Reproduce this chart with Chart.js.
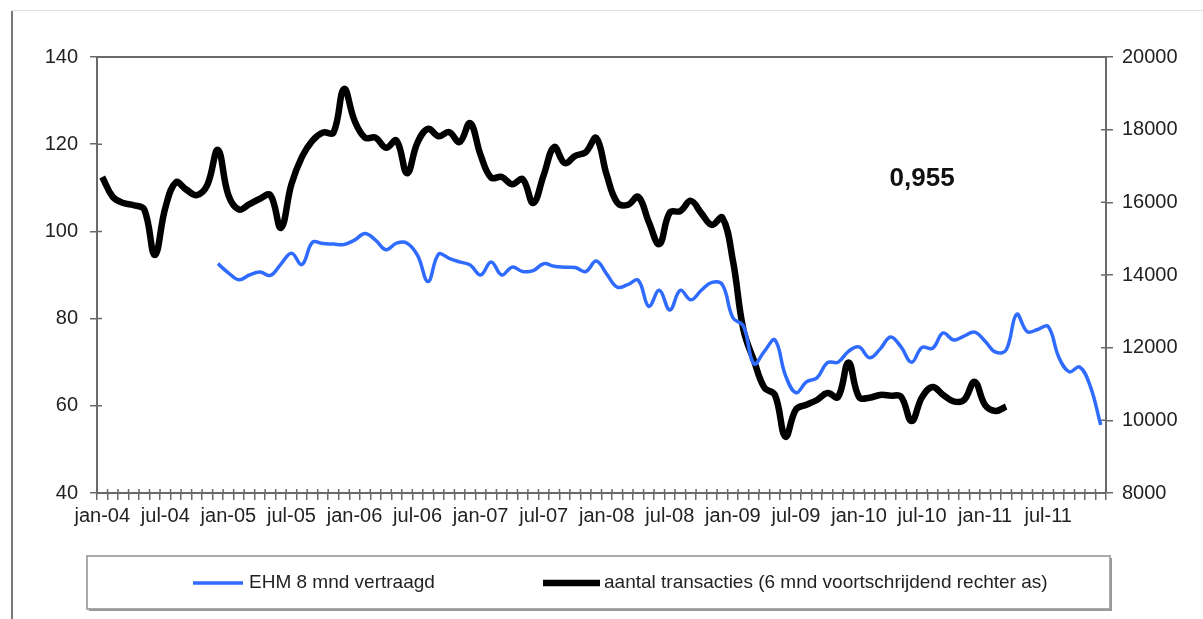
<!DOCTYPE html>
<html>
<head>
<meta charset="utf-8">
<script src="https://cdn.jsdelivr.net/npm/chart.js@4.4.1/dist/chart.umd.min.js"></script>
<style>
  html, body { margin: 0; padding: 0; background: #fff; }
  #wrap { width: 1203px; height: 619px; }
</style>
</head>
<body>
<div id="wrap"><canvas id="chart" width="1203" height="619"></canvas></div>
<script>
// DATA
const monthNames = ['jan', 'feb', 'mrt', 'apr', 'mei', 'jun', 'jul', 'aug', 'sep', 'okt', 'nov', 'dec'];
const years = ['04', '05', '06', '07', '08', '09', '10', '11'];
const labels = [];
years.forEach(y => monthNames.forEach(m => labels.push(m + '-' + y)));

const shownLabels = ['jan-04', 'jul-04', 'jan-05', 'jul-05', 'jan-06', 'jul-06', 'jan-07', 'jul-07',
    'jan-08', 'jul-08', 'jan-09', 'jul-09', 'jan-10', 'jul-10', 'jan-11', 'jul-11'];

// EHM 8 mnd vertraagd (left axis), starts dec-04
const ehm = [
    null, null, null, null, null, null, null, null, null, null, null, 92.6,
    90.5, 88.9, 90.0, 90.7, 89.9, 92.5, 95.0, 92.4, 97.5, 97.2, 97.1, 97.0,
    98.0, 99.5, 98.0, 95.8, 97.3, 97.3, 94.5, 88.5, 94.8, 93.8, 93.0, 92.3,
    90.0, 93.0, 90.0, 91.8, 90.8, 91.0, 92.6, 92.0, 91.8, 91.7, 90.8, 93.2,
    90.2, 87.2, 87.8, 88.8, 82.8, 86.5, 82.0, 86.5, 84.3, 86.5, 88.3, 87.8,
    80.2, 78.3, 69.6, 72.5, 75.1, 67.0, 63.0, 65.5, 66.4, 69.9, 70.0, 72.5,
    73.5, 71.0, 73.0, 75.8, 73.5, 70.0, 73.4, 73.2, 76.7, 75.1, 76.0, 76.9,
    74.8, 72.3, 72.8, 81.0, 77.0, 77.5, 78.2, 71.2, 67.8, 68.9, 64.5, 55.6
];

// aantal transacties, 6 mnd voortschrijdend (right axis), ends mrt-11
const transacties = [
    16700, 16150, 15980, 15920, 15800, 14550, 15850, 16550, 16350, 16200, 16480, 17440,
    16200, 15800, 15950, 16100, 16200, 15300, 16500, 17250, 17700, 17920, 17920, 19120,
    18250, 17780, 17780, 17500, 17700, 16800, 17650, 18020, 17820, 17930, 17660, 18180,
    17300, 16680, 16700, 16500, 16640, 15980, 16750, 17520, 17080, 17280, 17380, 17770,
    16750, 15990, 15930, 16150, 15460, 14850, 15720, 15760, 16040, 15700, 15380, 15580,
    14400, 12500, 11650, 10900, 10700, 9550, 10300, 10430, 10560, 10750, 10640, 11590,
    10640, 10620, 10700, 10680, 10650, 9980, 10640, 10920, 10700, 10520, 10560, 11060,
    10420, 10260, 10380, null, null, null, null, null, null, null, null, null
];

const correlation = '0,955';
const seriesNames = ['EHM 8 mnd vertraagd', 'aantal transacties (6 mnd voortschrijdend rechter as)'];

const FONT = "'Liberation Sans', Arial, sans-serif";
const axisColor = '#6a6a6a';

// PLUGINS
const frame = {
    id: 'frame',
    afterDraw(chart) {
        const c = chart.ctx;
        const a = chart.chartArea;
        c.save();
        // outer frame
        c.strokeStyle = '#777';
        c.lineWidth = 2;
        c.beginPath();
        c.moveTo(12, 11);
        c.lineTo(12, 619);
        c.stroke();
        c.strokeStyle = '#ddd';
        c.lineWidth = 1;
        c.beginPath();
        c.moveTo(12, 10.5);
        c.lineTo(1203, 10.5);
        c.stroke();
        // plot top border
        c.strokeStyle = axisColor;
        c.lineWidth = 2;
        c.beginPath();
        c.moveTo(a.left, a.top);
        c.lineTo(a.right, a.top);
        c.stroke();
        // inner half of the crossing ticks
        c.lineWidth = 1.5;
        c.beginPath();
        const yl = chart.scales.y, yr = chart.scales.y1, x = chart.scales.x;
        yl.ticks.forEach((t, i) => {
            const p = yl.getPixelForTick(i);
            c.moveTo(a.left, p); c.lineTo(a.left + 5, p);
        });
        yr.ticks.forEach((t, i) => {
            const p = yr.getPixelForTick(i);
            c.moveTo(a.right, p); c.lineTo(a.right - 5, p);
        });
        const step = (a.right - a.left) / labels.length;
        for (let i = 0; i <= labels.length; i++) {
            const p = x.getPixelForValue(i) - step / 2;
            c.moveTo(p, a.bottom); c.lineTo(p, a.bottom - 4);
        }
        c.stroke();
        // correlation label
        c.fillStyle = '#111';
        c.font = 'bold 26px ' + FONT;
        c.textAlign = 'center';
        c.textBaseline = 'middle';
        c.fillText(correlation, x.getPixelForValue(78), yl.getPixelForValue(112));
        c.restore();
    }
};

const boxLegend = {
    id: 'boxLegend',
    afterDraw(chart) {
        const c = chart.ctx;
        c.save();
        c.strokeStyle = '#aaa';
        c.lineWidth = 2;
        c.strokeRect(87, 556, 1023, 53);
        c.strokeStyle = '#999';
        c.beginPath();
        c.moveTo(89, 610); c.lineTo(1111, 610); c.lineTo(1111, 558);
        c.stroke();
        const items = [{ x0: 193, x1: 243, tx: 249 }, { x0: 543, x1: 600, tx: 604 }];
        const ly = 583;
        c.font = '19px ' + FONT;
        c.textBaseline = 'middle';
        c.textAlign = 'left';
        chart.data.datasets.forEach((ds, i) => {
            const it = items[i];
            c.strokeStyle = ds.borderColor;
            c.lineWidth = ds.borderWidth;
            c.beginPath();
            c.moveTo(it.x0, ly); c.lineTo(it.x1, ly);
            c.stroke();
            c.fillStyle = '#222';
            c.fillText(ds.label, it.tx, ly);
        });
        c.restore();
    }
};

// CHART
const ctx = document.getElementById('chart').getContext('2d');
const chart = new Chart(ctx, {
    type: 'line',
    data: {
        labels: labels,
        datasets: [{
            label: seriesNames[0],
            data: ehm,
            yAxisID: 'y',
            borderColor: '#2f6bff',
            borderWidth: 3.5,
            pointRadius: 0,
            tension: 0.4,
            fill: false
        }, {
            label: seriesNames[1],
            data: transacties,
            yAxisID: 'y1',
            borderColor: '#000000',
            borderWidth: 6.5,
            pointRadius: 0,
            tension: 0.4,
            fill: false
        }]
    },
    options: {
        responsive: false,
        animation: false,
        layout: { padding: { top: 57, bottom: 82, left: 0, right: 0 } },
        plugins: { legend: { display: false }, tooltip: { enabled: false } },
        scales: {
            x: {
                type: 'category',
                offset: true,
                grid: { offset: true, drawOnChartArea: false, drawTicks: true, tickLength: 7, color: axisColor, lineWidth: 1.5 },
                border: { display: true, color: axisColor, width: 2 },
                ticks: {
                    autoSkip: false, maxRotation: 0, minRotation: 0, padding: 4,
                    color: '#222', font: { family: FONT, size: 20 },
                    callback: function (v) {
                        const l = this.getLabelForValue(v);
                        return shownLabels.includes(l) ? l : '';
                    }
                },
                afterFit: s => { s.height = 44; }
            },
            y: {
                position: 'left',
                min: 40, max: 140,
                ticks: { stepSize: 20, padding: 12, color: '#222', font: { family: FONT, size: 20 } },
                grid: { drawOnChartArea: false, tickLength: 7, color: axisColor, lineWidth: 1.5 },
                border: { display: true, color: axisColor, width: 2 },
                afterFit: s => { s.width = 97; }
            },
            y1: {
                position: 'right',
                min: 8000, max: 20000,
                ticks: {
                    stepSize: 2000, padding: 9, color: '#222', font: { family: FONT, size: 20 },
                    callback: v => String(v)
                },
                grid: { drawOnChartArea: false, tickLength: 7, color: axisColor, lineWidth: 1.5 },
                border: { display: true, color: axisColor, width: 2 },
                afterFit: s => { s.width = 97; }
            }
        }
    },
    plugins: [frame, boxLegend]
});
</script>
</body>
</html>
